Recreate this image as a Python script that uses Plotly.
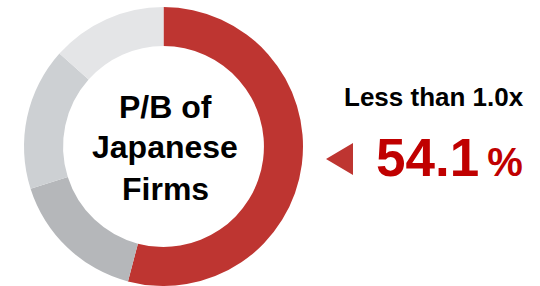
import plotly.graph_objects as go

labels = ["Less than 1.0x", "Group 2", "Group 3", "Group 4"]
values = [54.1, 16.0, 16.5, 13.4]
colors = ["#be3531", "#b5b7ba", "#cdd0d3", "#e4e5e7"]
center_lines = ["P/B of", "Japanese", "Firms"]
callout_label = "Less than 1.0x"
callout_value = "54.1"

W, H = 540, 286
fig = go.Figure(go.Pie(
    labels=labels, values=values, sort=False, direction="clockwise", rotation=0,
    hole=0.72, marker=dict(colors=colors, line=dict(width=0)),
    textinfo="none", textposition="none", hoverinfo="label+percent",
    domain=dict(x=[24/W, 303/W], y=[1-286/H, 1-7/H]),
))

font = "Liberation Sans, Arial, sans-serif"
ys = [107, 147, 189]
ann = []
for t, yy in zip(center_lines, ys):
    ann.append(dict(text=f"<b>{t}</b>", x=165/W, y=1-yy/H, xref="paper", yref="paper",
                    xanchor="center", yanchor="middle", showarrow=False,
                    font=dict(family=font, size=32, color="#000000")))
ann.append(dict(text=f"<b>{callout_label}</b>", x=434/W, y=1-97/H, xref="paper", yref="paper",
                xanchor="center", yanchor="middle", showarrow=False,
                font=dict(family=font, size=26, color="#000000")))
ann.append(dict(text=f"<b>{callout_value}</b><b><span style='font-size:40px'>\u2009%</span></b>",
                x=374/W, y=1-158/H, xref="paper", yref="paper",
                xanchor="left", yanchor="middle", showarrow=False,
                font=dict(family=font, size=53, color="#c00000")))

fig.update_layout(
    width=W, height=H, margin=dict(l=0, r=0, t=0, b=0),
    paper_bgcolor="white", plot_bgcolor="white", showlegend=False,
    annotations=ann,
    shapes=[dict(type="path", xref="paper", yref="paper",
                 path=f"M {326/W} {1-159/H} L {353/W} {1-143/H} L {353/W} {1-175/H} Z",
                 fillcolor="#be3531", line=dict(width=0))],
)
fig.write_html("out.html", config={"displayModeBar": False},
               post_script="document.body.style.margin='0';document.body.style.overflow='hidden';")
